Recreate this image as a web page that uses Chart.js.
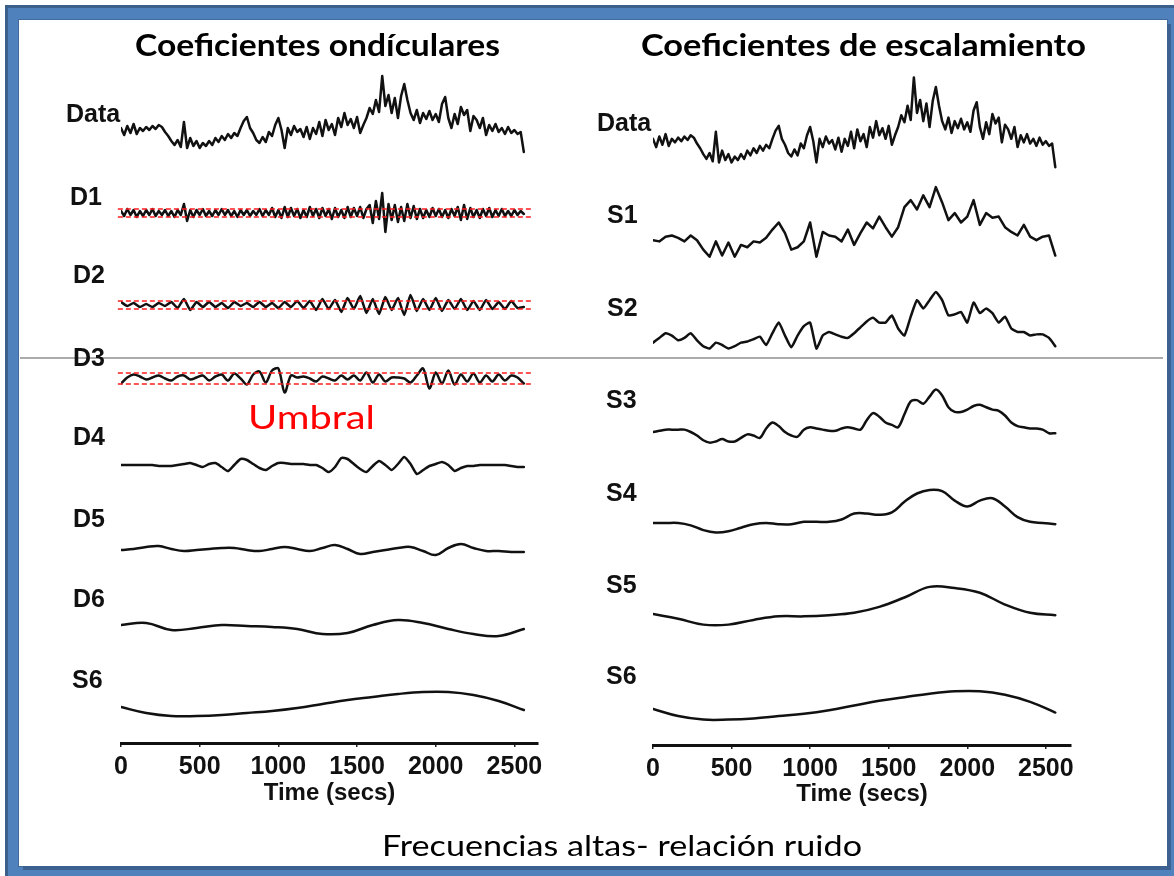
<!DOCTYPE html>
<html>
<head>
<meta charset="utf-8">
<script src="https://cdn.jsdelivr.net/npm/chart.js@4.4.1/dist/chart.umd.min.js"></script>
<style>
  body { margin: 0; width: 1174px; height: 876px; overflow: hidden; background: #fff; position: relative; }
  .frame { position: absolute; left: 5px; top: 5px; width: 1180px; height: 880px; background: #4f81bd;
           border-top: 3px solid #3a5f8b; border-left: 3px solid #3a5f8b; }
  .sheet { position: absolute; left: 19px; top: 20px; width: 1148px; height: 846px; background: #fff;
           box-shadow: 4px 4px 0 #3c6090, 0 0 0 1px #41699b; }
  .rule { position: absolute; left: 20px; top: 357px; width: 1143px; height: 2px; background: #ababab; }
  canvas { position: absolute; top: 0; }
  .txt { position: absolute; white-space: nowrap; line-height: 1; transform-origin: 0 0; color: #111; }
  .head { font: bold 31px Lato, "Open Sans", sans-serif; color: #000; }
  .note { font: 28px Lato, "Open Sans", sans-serif; color: #000; }
  .red  { font: 32px Lato, "Open Sans", sans-serif; color: #ff0000; }
  .lab  { font: bold 25px "Liberation Sans", Arial, sans-serif; }
</style>
</head>
<body>
<div class="frame"></div>
<div class="sheet"></div>
<div class="rule"></div>
<canvas id="left" width="587" height="876" style="left:0"></canvas>
<canvas id="right" width="587" height="876" style="left:587px"></canvas>

<div class="txt head" data-w="365" style="left:135px;top:25px">Coeficientes ondículares</div>
<div class="txt head" data-w="445" style="left:641px;top:25px">Coeficientes de escalamiento</div>
<div class="txt red" data-w="127" style="left:248px;top:397px">Umbral</div>
<div class="txt note" data-w="480" style="left:382px;top:828px">Frecuencias altas- relación ruido</div>

<script>
// time axis
const SPAN = 2560;
const timeTicks = [0, 500, 1000, 1500, 2000, 2500];

// raw signal, one sample every 20 s
const dataSeries = [
  12, 5, 14, 7, 16, 6, 12, 9, 13, 10, 14, 11, 15, 13, 8, 4, -1, -5, 0, -7,
  18, -8, 2, -6, -1, -8, -3, -6, -1, -5, 2, -2, 4, 0, 6, 2, 7, 4, 12, 19,
  23, 12, 7, 0, -3, 3, -2, 8, 4, 15, 22, 10, -8, 12, 5, 14, 8, 11, 3, 13,
  1, 12, 6, 18, 4, 20, 10, 16, 5, 22, 13, 27, 15, 21, 12, 23, 7, 15, 22, 32,
  26, 40, 28, 64, 34, 45, 27, 42, 22, 44, 56, 40, 27, 20, 30, 17, 27, 21, 29, 20,
  26, 18, 36, 43, 22, 12, 26, 16, 33, 25, 30, 9, 24, 20, 12, 22, 5, 15, 9, 16,
  8, 12, 6, 13, 7, 10, 6, 8, -12
];

// wavelet (detail) coefficients
const d1 = [
  2, -3, 4, -2, 3, -4, 2, -3, 3, -2, 4, -3, 2, -2, 3, -3, 2, -4, 3, -2,
  9, -8, 3, -4,
  3, -2, 4, -3, 2, -3, 3, -2, 4, -2, 3, -3, 2, -4, 3, -2, 3, -3, 2, -2, 4, -3, 3, -2, 5, -4, 3,
  -5, 6, -4, 5, -3, 4, -5, 3, -4, 6, -3, 4, -5, 5, -3, 4, -6, 5, -4, 3, -5, 6, -4, 5, -3, 6, -5, 4,
  8, -10, 12, -6, 20, -19, 9,
  -7, 8, -9, 6, -8, 9, -5, 7, -6,
  4, -5, 3, -4, 5, -3, 4, -4, 3, -5, 4, -3, 6, -7, 8, -6, 5, -4, 3, -5, 4, -3, 5, -4, 3, -3, 4, -3, 2, -3, 3, -2, 2, -1
];
const d2 = [
  3, -1, 2, -2, 1, -2, 2, -1, 3, -3, 6, -5,
  3, -2, 3, -2, 2, -3, 3, -1, 2, -2, 3, -2, 2, -3, 3, -2, 4, -3,
  4, -5, 6, -4, 5, -7, 7, -4,
  9, -8, 6, -9, 8, -5, 7, -10, 10, -6,
  6, -5, 7, -6, 5, -4, 6, -5, 4, -5, 5, -4, 3, -4, 4, -3, -2
];
const d3 = [
  -5, 1, 4, 2, -1, 1, 3, 0, -2, 2, 3, -1, 1, 3, -2, 2, 4, -2, 5, 0,
  -6, 4, 7, -4, 8, 10, -14, 3, 1, 2, 0, -3, 2, 0, -2, 3, -1, 3, -2, 6,
  -4, 4, -3, 1, 1, 0, -4, 3, 10, -10, 6, -5, 8, -6, 4, -3, 5, -4, 3, -3,
  4, -2, 3, 1, -5
];
const d4 = [
  0, 0, 0, 0, 0, 0, -1, -1, -1, 0, 1, 2, 0, -2, 1, 2, -2, -6, 0, 6,
  5, 1, -3, -5, -1, 2, 2, 1, 1, 1, 0, 0, -3, -7, -2, 7, 6, 1, -4, -7,
  -1, 4, 0, -5, 1, 8, 1, -9, -5, -1, 1, 3, 0, -6, -3, -1, -1, 0, 0, 0,
  0, 0, -1, -2, -2
];
const d5 = [-1, 0, 2, 3, 0, -2, -1, 0, 1, 1, -1, -2, 0, 2, 0, -2, 1, 4, 0, -5, -3, -1, 1, 2, -2, -6, 1, 5, 1, -2, -2, -3, -3];
const d6 = [1, 3, -4, -2, 1, 0, -1, -3, -8, -7, 1, 6, 3, -3, -8, -10, -3];

// scaling (smooth) coefficients
const s1 = [
  10, 9, 13, 14, 12, 9, 14, 10, 2, -4, 9, -3, 8, -4, 6, 4, 9, 8, 12, 19,
  25, 16, 2, 4, 9, 25, -4, 17, 14, 13, 9, 19, 6, 16, 25, 20, 30, 21, 13, 21,
  38, 44, 36, 48, 38, 55, 42, 27, 33, 25, 30, 44, 23, 33, 29, 30, 21, 17, 14, 23,
  13, 10, 13, 14, -3
];
const s2 = [
  2, 6, 10, 8, 4, 6, 10, 4, -1, -3, 2, 0, -3, -1, 2, 3, 5, 7, 0, 10,
  19, 8, -2, 8, 16, 19, -3, 8, 11, 9, 7, 6, 10, 15, 20, 23, 19, 19, 25, 14,
  8, 24, 38, 31, 38, 45, 38, 25, 26, 28, 19, 36, 27, 31, 27, 19, 24, 14, 11, 11,
  8, 9, 9, 6, -1
];
const s3 = [
  0, 1, 2, 2, 2, 2, 0, -3, -7, -9, -8, -6, -8, -8, -5, -2, -3, -5, 3, 8,
  5, 0, -3, -4, 2, 4, 3, 2, 1, 1, 3, 4, 3, 2, 10, 16, 13, 8, 6, 4,
  15, 26, 27, 24, 30, 36, 31, 21, 17, 17, 19, 22, 23, 21, 19, 18, 14, 8, 5, 4,
  3, 3, 2, -1, -1
];
const s4 = [0, 0, 0, -2, -6, -8, -7, -4, -1, 0, -1, -1, 1, 1, 1, 3, 8, 8, 7, 9, 18, 25, 28, 27, 19, 14, 19, 21, 14, 5, 1, 0, -1];
const s5 = [0, -4, -9, -9, -5, -2, -2, -1, 1, 6, 14, 23, 22, 18, 8, 1, -1];
const s6 = [0, -6, -9, -9, -8, -6, -4, -1, 3, 7, 10, 13, 15, 15, 12, 6, -3];

// thresholds on D1, D2, D3 and the time range of the dashed lines
const umbral = [4, 4, 5.5];
const umbralSpan = [-20, 2605];

const waveletNames = ['Data', 'D1', 'D2', 'D3', 'D4', 'D5', 'D6', 'S6'];
const scalingNames = ['Data', 'S1', 'S2', 'S3', 'S4', 'S5', 'S6'];

// layout: baseline pixel of every row, label anchors
const leftRows = [140, 213, 305, 378.5, 465, 549, 626, 707];
const rightRows = [153, 252, 345, 432, 523, 614, 709];
const rightGain = 1.18;
const leftLabelX = [66, 70, 73, 73, 73, 73, 73, 72];
const leftLabelY = [111.5, 194, 272, 355, 434, 516, 596, 677];
const rightLabelX = [597, 607, 607, 606, 606, 606, 606];
const rightLabelY = [120, 212, 305, 397, 490, 582, 673];

const INK = '#111';
const pts = vals => vals.map((v, i) => ({ x: i * SPAN / (vals.length - 1), y: v }));

function trace(vals, axis, tension) {
  return { data: pts(vals), yAxisID: axis, borderColor: INK, borderWidth: 2.5, pointRadius: 0,
           tension: tension, borderJoinStyle: 'round', borderCapStyle: 'round', order: 1 };
}

function threshold(level, axis) {
  return { data: umbralSpan.map(x => ({ x: x, y: level })), yAxisID: axis, borderColor: '#ff1c1c',
           borderWidth: 1.3, borderDash: [5, 3], pointRadius: 0, clip: false, order: 0 };
}

// one hidden y axis per row, chart area runs from 0 to `bottom`
function rowScales(rows, gain, bottom) {
  const scales = {};
  rows.forEach((base, i) => {
    scales['y' + i] = { display: false, min: (base - bottom) / gain, max: base / gain };
  });
  return scales;
}

const tickFont = { family: '"Liberation Sans", Arial, sans-serif', size: 25, weight: 'bold' };
const titleFont = { family: '"Liberation Sans", Arial, sans-serif', size: 24, weight: 'bold' };

function panel(canvas, datasets, rows, gain, bottom, xMax, padLeft, padRight, titleCenter) {
  const scales = rowScales(rows, gain, bottom);
  scales.x = {
    type: 'linear', position: 'bottom', min: 0, max: xMax,
    afterBuildTicks: s => { s.ticks = timeTicks.map(v => ({ value: v })); },
    afterFit: s => { s.height = 876 - bottom; },
    grid: { drawOnChartArea: false, drawTicks: true, tickLength: 4, color: '#222', lineWidth: 1.5 },
    border: { display: true, color: '#111', width: 3 },
    ticks: { color: '#111', padding: 5, autoSkip: false, maxRotation: 0, font: tickFont,
             callback: v => String(v) },
    title: { display: true, text: 'Time (secs)', color: '#111', font: titleFont,
             padding: { top: 0, bottom: 876 - titleCenter - 14.4 } }
  };
  return new Chart(canvas, {
    type: 'line',
    data: { datasets: datasets },
    options: {
      responsive: false,
      animation: false,
      events: [],
      layout: { padding: { left: padLeft, right: padRight, top: 0, bottom: 0 } },
      plugins: { legend: { display: false }, tooltip: { enabled: false } },
      scales: scales
    }
  });
}

const leftSets = [
  trace(dataSeries, 'y0', 0),
  trace(d1, 'y1', 0),
  trace(d2, 'y2', 0.15),
  trace(d3, 'y3', 0.3),
  trace(d4, 'y4', 0.2),
  trace(d5, 'y5', 0.4),
  trace(d6, 'y6', 0.4),
  trace(s6, 'y7', 0.4)
];
umbral.forEach((u, i) => {
  leftSets.push(threshold(u, 'y' + (i + 1)));
  leftSets.push(threshold(-u, 'y' + (i + 1)));
});

const rightSets = [
  trace(dataSeries, 'y0', 0),
  trace(s1, 'y1', 0),
  trace(s2, 'y2', 0.15),
  trace(s3, 'y3', 0.3),
  trace(s4, 'y4', 0.4),
  trace(s5, 'y5', 0.4),
  trace(s6, 'y6', 0.4)
];

panel(document.getElementById('left'), leftSets, leftRows, 1, 743, 2650, 121, 49, 793);
panel(document.getElementById('right'), rightSets, rightRows, rightGain, 745, 2660, 66, 103, 794);

// row labels
function addLabels(names, xs, ys) {
  names.forEach((name, i) => {
    const el = document.createElement('div');
    el.className = 'txt lab';
    el.textContent = name;
    el.style.left = xs[i] + 'px';
    el.style.top = (ys[i] - 12.5) + 'px';
    document.body.appendChild(el);
  });
}
addLabels(waveletNames, leftLabelX, leftLabelY);
addLabels(scalingNames, rightLabelX, rightLabelY);

// squeeze slide text to its box width
document.querySelectorAll('[data-w]').forEach(el => {
  const w = el.getBoundingClientRect().width;
  el.style.transform = 'scaleX(' + (Number(el.dataset.w) / w) + ')';
});
</script>
</body>
</html>
